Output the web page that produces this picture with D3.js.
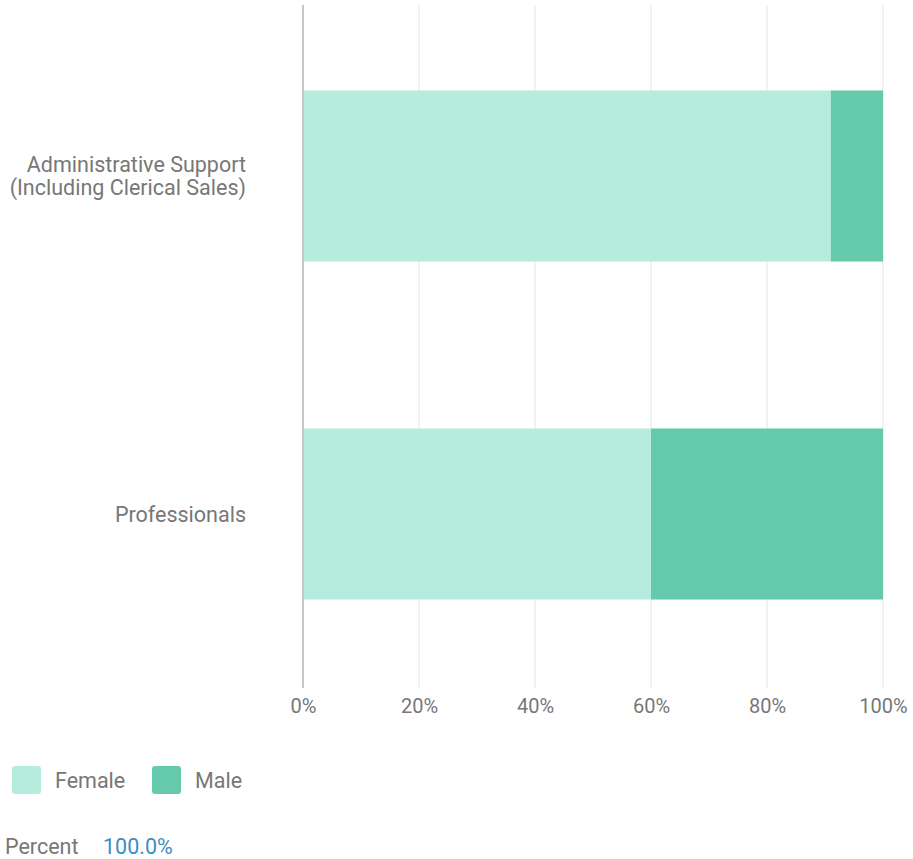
<!DOCTYPE html>
<html>
<head>
<meta charset="utf-8">
<script src="https://cdn.jsdelivr.net/npm/d3@7"></script>
<style>
  html, body { margin: 0; padding: 0; background: #fff; }
  svg { display: block; font-family: Roboto, "Noto Sans", sans-serif; }
</style>
</head>
<body>
<svg id="chart" width="913" height="859"></svg>
<script>
const categories = [
  ["Administrative Support", "(Including Clerical Sales)"],
  ["Professionals"]
];
const categoryKeys = ["Administrative Support (Including Clerical Sales)", "Professionals"];
const seriesNames = ["Female", "Male"];
const femaleValues = [91, 60];
const maleValues = [9, 40];
const xTicks = [0, 20, 40, 60, 80, 100];
const tickLabels = ["0%", "20%", "40%", "60%", "80%", "100%"];
const colors = ["#b5ecdd", "#65caab"];
const footerLabel = "Percent";
const footerValue = "100.0%";

const svg = d3.select("#chart");
const FS = 21.5;
const textColor = "#777777";

const x = d3.scaleLinear().domain([0, 100]).range([303, 883]);
const y = d3.scaleBand().domain(categoryKeys).range([7, 683])
  .paddingInner(0.494).paddingOuter(0.247);

// gridlines
svg.append("g").selectAll("line").data(xTicks.slice(1)).join("line")
  .attr("x1", d => x(d)).attr("x2", d => x(d))
  .attr("y1", 5).attr("y2", 688)
  .attr("stroke", "#e4e4e4").attr("stroke-width", 1);

// stacked data
const rows = categoryKeys.map((k, i) => ({ key: k, Female: femaleValues[i], Male: maleValues[i] }));
const stacked = d3.stack().keys(seriesNames)(rows);

svg.append("g").selectAll("g").data(stacked).join("g")
  .attr("fill", (d, i) => colors[i])
  .selectAll("rect").data(d => d).join("rect")
  .attr("x", d => x(d[0]))
  .attr("width", d => x(d[1]) - x(d[0]))
  .attr("y", d => y(d.data.key))
  .attr("height", y.bandwidth());

// left axis line
svg.append("line")
  .attr("x1", x(0)).attr("x2", x(0)).attr("y1", 5).attr("y2", 688)
  .attr("stroke", "#c8c8c8").attr("stroke-width", 2);

// x axis tick labels
const xAxis = d3.axisBottom(x).tickValues(xTicks)
  .tickFormat((d, i) => tickLabels[i]).tickSize(0).tickPadding(0);
const gx = svg.append("g").attr("transform", "translate(0,699)").call(xAxis);
gx.select(".domain").remove();
gx.selectAll("text")
  .attr("dy", "0.71em")
  .attr("fill", textColor).attr("font-size", 20)
  .attr("font-family", "Roboto, sans-serif");

// category labels (each line its own text element)
const yLabels = svg.append("g");
categoryKeys.forEach((k, i) => {
  const lines = categories[i];
  const cy = y(k) + y.bandwidth() / 2;
  const lh = 23;
  lines.forEach((ln, j) => {
    yLabels.append("text")
      .attr("text-anchor", "end")
      .attr("fill", textColor).attr("font-size", FS)
      .attr("x", 246)
      .attr("y", cy + (j - (lines.length - 1) / 2) * lh)
      .attr("dy", "0.35em").text(ln);
  });
});

// legend
const legend = svg.append("g");
const legX = [12, 152];
seriesNames.forEach((s, i) => {
  legend.append("rect").attr("x", legX[i]).attr("y", 766)
    .attr("width", 29).attr("height", 28).attr("rx", 3)
    .attr("fill", colors[i]);
  legend.append("text").attr("x", legX[i] + 43).attr("y", 780).attr("dy", "0.35em")
    .attr("fill", textColor).attr("font-size", FS).text(s);
});

// footer
svg.append("text").attr("x", 5).attr("y", 846).attr("dy", "0.35em")
  .attr("fill", textColor).attr("font-size", FS).text(footerLabel);
svg.append("text").attr("x", 103).attr("y", 846).attr("dy", "0.35em")
  .attr("fill", "#3d8cc4").attr("font-size", FS).text(footerValue);
</script>
</body>
</html>
